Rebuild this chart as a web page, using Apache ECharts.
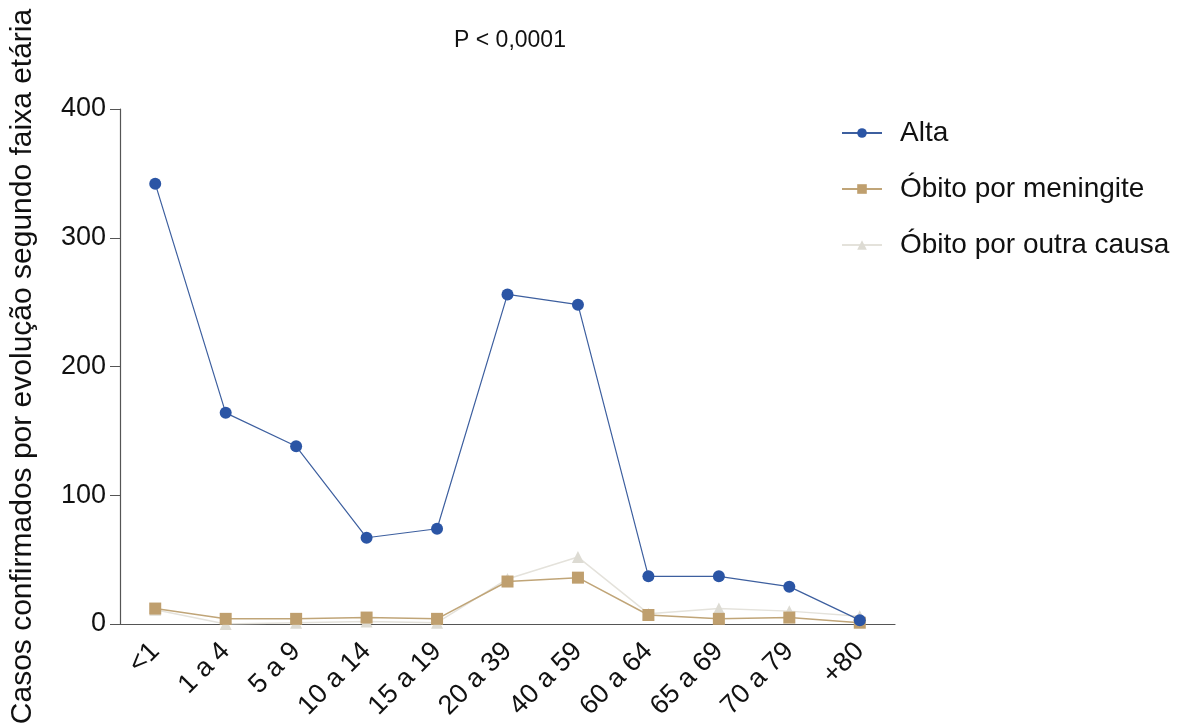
<!DOCTYPE html>
<html><head><meta charset="utf-8">
<script src="https://cdn.jsdelivr.net/npm/echarts@6/dist/echarts.min.js"></script>
<style>html,body{margin:0;padding:0;background:#fff}#c{width:1199px;height:726px}</style>
</head><body><div id="c"></div>
<script>
const categories = ['<1','1 a 4','5 a 9','10 a 14','15 a 19','20 a 39','40 a 59','60 a 64','65 a 69','70 a 79','+80'];
const alta = [342,164,138,67,74,256,248,37,37,29,3];
const obitoMeningite = [12,4,4,5,4,33,36,7,4,5,1];
const obitoOutra = [11,0,1,2,1,35,52,8,12,10,6];
const yTicks = [0,100,200,300,400];

const font = 'Liberation Sans, Arial, Helvetica, sans-serif';
const chart = echarts.init(document.getElementById('c'));
chart.setOption({
  animation:false,
  title:{text:'P < 0,0001',left:505,top:24,textAlign:'center',textStyle:{fontFamily:font,fontSize:23,fontWeight:'normal',color:'#111'}},
  grid:{left:120,right:304,top:109,bottom:102,containLabel:false,outerBoundsMode:'none'},
  legend:{orient:'vertical',left:836,top:114,itemWidth:40,itemHeight:12,itemGap:28,
    textStyle:{fontFamily:font,fontSize:28,color:'#111',padding:[0,0,0,13]},
    data:['Alta','Óbito por meningite','Óbito por outra causa']},
  xAxis:{type:'category',data:categories,boundaryGap:true,
    axisLine:{lineStyle:{color:'#555',width:1.2}},
    axisTick:{alignWithLabel:true,length:13,lineStyle:{color:'#555'}},
    axisLabel:{rotate:45,fontFamily:font,fontSize:27,color:'#111',margin:23,interval:0}},
  yAxis:{type:'value',min:0,max:400,interval:100,
    name:'Casos confirmados por evolução segundo faixa etária',nameLocation:'middle',nameGap:82,
    nameTextStyle:{fontFamily:font,fontSize:30,color:'#111'},
    axisLine:{show:true,lineStyle:{color:'#555',width:1.2}},
    axisTick:{show:true,length:10,lineStyle:{color:'#555'}},
    splitLine:{show:false},
    axisLabel:{fontFamily:font,fontSize:27,color:'#111',margin:14,
      formatter:v=>yTicks.includes(v)?String(v):''}},
  series:[
    {name:'Óbito por outra causa',type:'line',data:obitoOutra,symbol:'triangle',symbolSize:12,
      lineStyle:{color:'#e4e2db',width:1.5},itemStyle:{color:'#dddbd3'},z:2},
    {name:'Óbito por meningite',type:'line',data:obitoMeningite,symbol:'rect',symbolSize:12,
      lineStyle:{color:'#c0a578',width:1.5},itemStyle:{color:'#bf9f6e'},z:3},
    {name:'Alta',type:'line',data:alta,symbol:'circle',symbolSize:12,
      lineStyle:{color:'#3d5f9f',width:1.2},itemStyle:{color:'#2b55a5'},z:4}
  ]
});
</script></body></html>
